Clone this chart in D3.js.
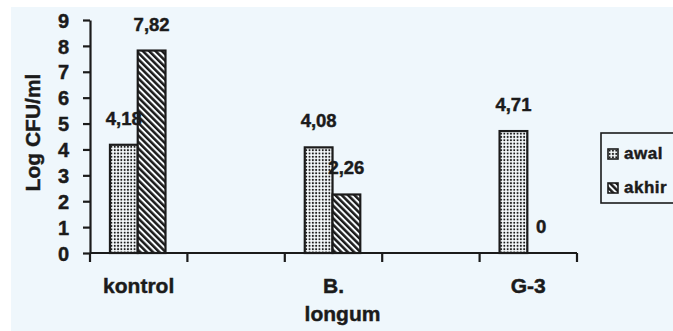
<!DOCTYPE html>
<html>
<head>
<meta charset="utf-8">
<script src="https://cdn.jsdelivr.net/npm/d3@7"></script>
<style>
  body { margin: 0; background: #ffffff; }
  svg { display: block; }
  svg text { stroke: #1b1b1b; stroke-width: 0.45px; }
</style>
</head>
<body>
<div class="graph"></div>
<script>
// slots on the x axis: two of them are left empty in the original
const categories = ["kontrol", "", "B. longum", "", "G-3"]
const series = ["awal", "akhir"]
const awal = [4.18, null, 4.08, null, 4.71]
const akhir = [7.82, null, 2.26, null, 0]
const yTicks = [0, 1, 2, 3, 4, 5, 6, 7, 8, 9]

const width = 673, height = 331
const margin = {top: 20, left: 90, right: 96, bottom: 78}
const ink = "#1b1b1b"

const svg = d3.select(".graph").append("svg")
    .attr("width", width)
    .attr("height", height)
    .style("font-family", "'Liberation Sans', Arial, sans-serif")
    .style("font-weight", "bold")

// scanned page background
svg.append("rect")
    .attr("x", 11).attr("y", 7)
    .attr("width", width - 11).attr("height", height - 7)
    .attr("fill", "#eff7fc")

const defs = svg.append("defs")
const dots = defs.append("pattern")
    .attr("id", "dots")
    .attr("patternUnits", "userSpaceOnUse")
    .attr("width", 3.3).attr("height", 3.3)
dots.append("rect").attr("width", 3.3).attr("height", 3.3).attr("fill", "#f7fbfd")
dots.append("circle").attr("cx", 1.65).attr("cy", 1.65).attr("r", 1.05).attr("fill", ink)

const hatch = defs.append("pattern")
    .attr("id", "hatch")
    .attr("patternUnits", "userSpaceOnUse")
    .attr("width", 4.5).attr("height", 10)
    .attr("patternTransform", "rotate(-45)")
hatch.append("rect").attr("width", 4.5).attr("height", 10).attr("fill", "#f7fbfd")
hatch.append("rect").attr("width", 2.5).attr("height", 10).attr("fill", ink)

const fills = {awal: "url(#dots)", akhir: "url(#hatch)"}

const x = d3.scaleBand()
    .domain(d3.range(categories.length))
    .range([margin.left, width - margin.right])
    .padding(0)

const xSub = d3.scaleBand()
    .domain(series)
    .range([x.bandwidth() * 0.205, x.bandwidth() * 0.775])
    .padding(0)

const y = d3.scaleLinear()
    .domain([0, 9])
    .range([height - margin.bottom, margin.top])

const rows = categories.map((c, i) => ({i, c, awal: awal[i], akhir: akhir[i]}))

const fmt = v => v === 0 ? "0" : d3.format(".2f")(v).replace(".", ",")

// bars
const groups = svg.append("g")
    .selectAll("g")
    .data(rows)
    .join("g")
    .attr("transform", d => `translate(${x(d.i)},0)`)

groups.selectAll("rect")
    .data(d => series.filter(s => d[s] != null && d[s] > 0).map(s => ({s, v: d[s]})))
    .join("rect")
    .attr("x", d => xSub(d.s))
    .attr("y", d => y(d.v))
    .attr("width", xSub.bandwidth())
    .attr("height", d => y(0) - y(d.v))
    .attr("fill", d => fills[d.s])
    .attr("stroke", ink)
    .attr("stroke-width", 2.2)

groups.selectAll("text")
    .data(d => series.filter(s => d[s] != null).map(s => ({s, v: d[s]})))
    .join("text")
    .attr("x", d => xSub(d.s) + xSub.bandwidth() / 2)
    .attr("y", d => y(d.v) - 20)
    .attr("text-anchor", "middle")
    .style("font-size", "18.5px")
    .attr("fill", ink)
    .text(d => fmt(d.v))

// y axis
const yAxis = g => g
    .attr("transform", `translate(${margin.left},0)`)
    .call(d3.axisLeft(y).tickValues(yTicks).tickFormat(d3.format("d")).tickSize(7).tickPadding(14).tickSizeOuter(0))
    .call(g => g.selectAll("line, path").attr("stroke", ink).attr("stroke-width", 2.2))
    .call(g => g.selectAll("text").attr("fill", ink).style("font-size", "20px").attr("dy", "0.36em"))

svg.append("g").call(yAxis)

// x axis: line with ticks at slot boundaries
const bounds = d3.range(categories.length + 1).map(i => x.range()[0] + i * x.step())
const xg = svg.append("g")
xg.append("line")
    .attr("x1", x.range()[0]).attr("x2", x.range()[1])
    .attr("y1", y(0)).attr("y2", y(0))
    .attr("stroke", ink).attr("stroke-width", 2.2)
xg.selectAll(".tk")
    .data(bounds)
    .join("line")
    .attr("class", "tk")
    .attr("x1", d => d).attr("x2", d => d)
    .attr("y1", y(0)).attr("y2", y(0) + 9)
    .attr("stroke", ink).attr("stroke-width", 2.2)

const labelLines = {"B. longum": [["B.", 0, 0], ["longum", 9, 28]]}
rows.filter(d => d.c !== "").forEach(d => {
    const lines = labelLines[d.c] || [[d.c, 0, 0]]
    lines.forEach(([t, dx, dy]) => {
        xg.append("text")
            .attr("x", x(d.i) + x.bandwidth() / 2 + dx)
            .attr("y", y(0) + 40 + dy)
            .attr("text-anchor", "middle")
            .attr("fill", ink)
            .style("font-size", "21px")
            .text(t)
    })
})

// y title
svg.append("text")
    .attr("transform", `translate(40,${(y(0) + y(9)) / 2 - 4}) rotate(-90)`)
    .attr("text-anchor", "middle")
    .attr("fill", ink)
    .style("font-size", "21px")
    .text("Log CFU/ml")

// legend
const legend = svg.append("g").attr("transform", "translate(601,133)")
legend.append("rect")
    .attr("width", 90).attr("height", 70)
    .attr("fill", "none").attr("stroke", ink).attr("stroke-width", 1.6)
const li = legend.selectAll(".li")
    .data(series)
    .join("g")
    .attr("class", "li")
    .attr("transform", (d, i) => `translate(7,${16 + i * 34})`)
li.append("rect")
    .attr("width", 10).attr("height", 10)
    .attr("fill", d => fills[d])
    .attr("stroke", ink).attr("stroke-width", 1.6)
li.append("text")
    .attr("x", 16).attr("y", 10)
    .attr("fill", ink)
    .style("font-size", "17px")
    .style("letter-spacing", "0.5px")
    .text(d => d)
</script>
</body>
</html>
